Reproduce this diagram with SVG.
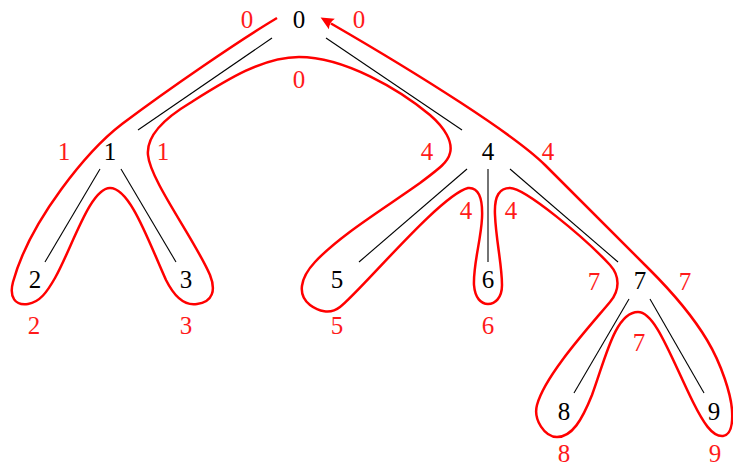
<svg xmlns="http://www.w3.org/2000/svg" width="733" height="468" viewBox="0 0 733 468">
<style>
text{font-family:"Liberation Serif","Times New Roman","DejaVu Serif",serif;font-size:25px;text-anchor:middle}
.n{fill:#000}
.r{fill:#ff1a1a}
.e{stroke:#000;stroke-width:1.1;fill:none}
.tour{stroke:#ff0000;stroke-width:2.5;fill:none;stroke-linejoin:round}
</style>
<defs>
<marker id="ah" markerUnits="userSpaceOnUse" markerWidth="16" markerHeight="14" refX="1" refY="6" orient="auto" overflow="visible">
<path d="M0,0 L13,6 L0,12 Q3,6 0,0 Z" fill="#ff0000"/>
</marker>
</defs>
<g id="connectors">
<line class="e" x1="272" y1="38" x2="138" y2="130"/>
<line class="e" x1="326" y1="38" x2="462" y2="130"/>
<line class="e" x1="100" y1="169" x2="45" y2="262"/>
<line class="e" x1="121" y1="169" x2="176" y2="262"/>
<line class="e" x1="467" y1="169" x2="359" y2="262"/>
<line class="e" x1="488" y1="169" x2="488" y2="262"/>
<line class="e" x1="510" y1="169" x2="618" y2="262"/>
<line class="e" x1="629" y1="299" x2="574" y2="393"/>
<line class="e" x1="650" y1="299" x2="704" y2="393"/>
</g>
<g id="tour">
<path class="tour" marker-end="url(#ah)" d="M277,18 C240,40 170,88 122,124 C88,150 30,220 13,282 C9,297 15,306 28,304 C40,302 47,292 55,278 C72,248 90,188 110,188 C130,188 148,240 166,280 C175,298 185,306 197,304 C213,302 216,290 210,275 C195,240 150,180 148,155 C146,135 165,118 190,103 C225,81 262,57 299,57 C345,57 400,90 430,115 C445,128 453,142 450,153 C448,162 440,168 420,183 C385,208 340,235 315,262 C300,278 297,295 310,305 C318,311 330,315 340,307 C360,292 440,195 468,188 C478,187 483,197 482,218 C481,240 473,265 474,285 C475,298 481,304 488,304 C495,304 502,298 502,285 C502,265 496,240 495,215 C494,195 500,188 510,188 C525,188 585,238 610,265 C620,276 620,290 610,302 C590,326 545,375 537,405 C533,420 545,437 557,437 C572,437 582,420 592,395 C605,360 615,312 638,312 C655,312 670,355 693,402 C703,422 712,437 723,436 C730,435 733,425 732,410 C731,395 722,365 707,340 C692,315 670,290 650,270 L545,165 C515,135 420,75 331,23.5"/>
</g>
<g id="node0"><text class="n" x="299" y="28">0</text></g>
<g id="node1"><text class="n" x="110" y="160">1</text></g>
<g id="node2"><text class="n" x="35" y="288">2</text></g>
<g id="node3"><text class="n" x="186" y="288">3</text></g>
<g id="node4"><text class="n" x="488" y="160">4</text></g>
<g id="node5"><text class="n" x="337" y="288">5</text></g>
<g id="node6"><text class="n" x="488" y="288">6</text></g>
<g id="node7"><text class="n" x="640" y="289">7</text></g>
<g id="node8"><text class="n" x="564" y="420">8</text></g>
<g id="node9"><text class="n" x="714" y="420">9</text></g>
<g id="tour-labels">
<text class="r" x="247" y="28">0</text>
<text class="r" x="359" y="28">0</text>
<text class="r" x="299" y="88">0</text>
<text class="r" x="64" y="160">1</text>
<text class="r" x="163" y="160">1</text>
<text class="r" x="34" y="334">2</text>
<text class="r" x="186" y="334">3</text>
<text class="r" x="427" y="160">4</text>
<text class="r" x="548" y="160">4</text>
<text class="r" x="466" y="219">4</text>
<text class="r" x="511" y="219">4</text>
<text class="r" x="337" y="334">5</text>
<text class="r" x="488" y="334">6</text>
<text class="r" x="594" y="290">7</text>
<text class="r" x="685" y="290">7</text>
<text class="r" x="639" y="351">7</text>
<text class="r" x="564" y="462">8</text>
<text class="r" x="715" y="462">9</text>
</g>
</svg>
